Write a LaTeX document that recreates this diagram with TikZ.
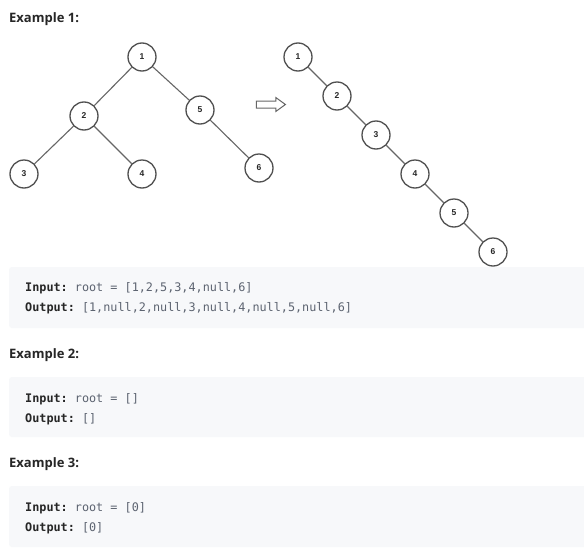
\documentclass[tikz,border=0pt]{standalone}
\usepackage{fontspec}
\setmainfont{Open Sans}
\setmonofont{DejaVu Sans Mono}
\newfontfamily\numfont{Liberation Sans}
\usetikzlibrary{positioning, shapes.arrows}
\definecolor{lcbox}{HTML}{F7F8FA}
\definecolor{lctext}{HTML}{262626}
\definecolor{lcval}{HTML}{5C6370}
\definecolor{lcnode}{HTML}{505050}
\definecolor{lcedge}{HTML}{666666}
\tikzset{
  x=1pt, y=-1pt,
  tn/.style={circle, draw=lcnode, line width=1.3pt, fill=white, minimum size=28pt,
             inner sep=0pt, font=\numfont\bfseries\fontsize{8.5}{9}\selectfont, text=black!85},
  link/.style={draw=lcedge, line width=1.1pt},
  heading/.style={anchor=base west, inner sep=0pt, font=\bfseries\fontsize{13}{15}\selectfont, text=lctext},
  codeln/.style={anchor=base west, inner sep=0pt, font=\ttfamily\fontsize{11.8}{14}\selectfont, text=lcval},
  codebox/.style={fill=lcbox, rounded corners=3pt},
}
\newcommand{\kw}[1]{\textcolor{lctext}{\textbf{#1}}}

\begin{document}
\begin{tikzpicture}
  \useasboundingbox[fill=white] (0,0) rectangle (584,549);

  % example 1: tree before
  \node[heading] (ex1) at (9,22.5) {Example 1:};
  \node[tn] (a1) at (142,57) {1};
  \node[tn] (a2) at ([shift={(-58,59)}]a1) {2};
  \node[tn] (a5) at ([shift={(58,53)}]a1) {5};
  \node[tn] (a3) at ([shift={(-60,58)}]a2) {3};
  \node[tn] (a4) at ([shift={(58,58)}]a2) {4};
  \node[tn] (a6) at ([shift={(59,58)}]a5) {6};
  \draw[link] (a1) -- (a2);
  \draw[link] (a1) -- (a5);
  \draw[link] (a2) -- (a3);
  \draw[link] (a2) -- (a4);
  \draw[link] (a5) -- (a6);

  % arrow
  \node[single arrow, draw=lcedge, line width=1pt, inner sep=3pt, minimum width=13pt,
        minimum height=29pt, single arrow head extend=3.5pt, single arrow tip angle=72]
        (arr) at (268.5,104.5) {};

  % flattened list
  \node[tn] (b1) at (298,57) {1};
  \foreach \i [remember=\i as \j (initially 1)] in {2,...,6}{
    \node[tn] (b\i) at ([shift={(39,39)}]b\j) {\i};
    \draw[link] (b\j) -- (b\i);
  }

  % code blocks
  \fill[codebox] (9,267) rectangle (600,328);
  \node[codeln] (in1) at (25,291.5) {\kw{Input:} root = [1,2,5,3,4,null,6]};
  \node[codeln] (out1) at (25,311.5) {\kw{Output:} [1,null,2,null,3,null,4,null,5,null,6]};

  \node[heading] (ex2) at (9,358) {Example 2:};
  \fill[codebox] (9,377) rectangle (600,437);
  \node[codeln] (in2) at (25,402) {\kw{Input:} root = []};
  \node[codeln] (out2) at (25,422.5) {\kw{Output:} []};

  \node[heading] (ex3) at (9,467) {Example 3:};
  \fill[codebox] (9,486) rectangle (600,547);
  \node[codeln] (in3) at (25,511.5) {\kw{Input:} root = [0]};
  \node[codeln] (out3) at (25,531) {\kw{Output:} [0]};
\end{tikzpicture}
\end{document}
